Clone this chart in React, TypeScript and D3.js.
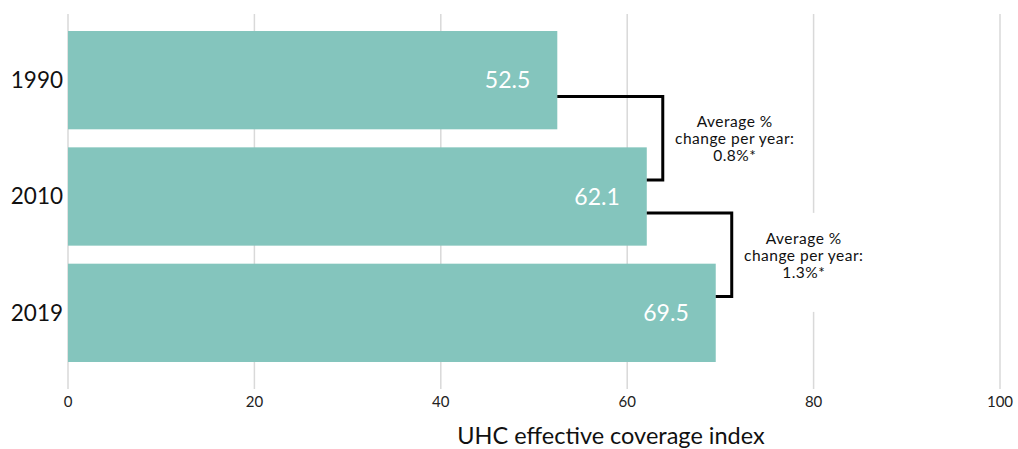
import React, { useEffect, useRef } from "react";
import * as d3 from "d3";

const years = ["1990", "2010", "2019"];
const coverage = [52.5, 62.1, 69.5];
const xTicks = [0, 20, 40, 60, 80, 100];
const changeLabels = ["0.8%*", "1.3%*"];
const axisTitle = "UHC effective coverage index";

const FONT = "Lato, 'Noto Sans', sans-serif";

export default function App() {
  const ref = useRef<SVGSVGElement | null>(null);

  useEffect(() => {
    const width = 1018;
    const height = 449;
    const svg = d3.select(ref.current);
    svg.selectAll("*").remove();

    const x = d3.scaleLinear().domain([0, 100]).range([68, 1000]);
    const y = d3.scaleBand<string>().domain(years).range([31, 362]).paddingInner(0.155).paddingOuter(0);

    // gridlines
    svg.append("g")
      .selectAll("line")
      .data(xTicks)
      .enter()
      .append("line")
      .attr("x1", d => x(d))
      .attr("x2", d => x(d))
      .attr("y1", 14)
      .attr("y2", 389)
      .attr("stroke", "#d9d9d9")
      .attr("stroke-width", 1.5);

    // tick labels
    svg.append("g")
      .selectAll("text")
      .data(xTicks)
      .enter()
      .append("text")
      .attr("x", d => x(d))
      .attr("y", 407)
      .attr("text-anchor", "middle")
      .style("font-family", FONT)
      .style("font-size", "15px")
      .attr("fill", "#222")
      .text(d => d);

    // axis title
    svg.append("text")
      .attr("x", 611)
      .attr("y", 444)
      .attr("text-anchor", "middle")
      .style("font-family", FONT)
      .style("font-size", "23.5px")
      .attr("fill", "#111")
      .text(axisTitle);

    // bars
    svg.append("g")
      .selectAll("rect")
      .data(years)
      .enter()
      .append("rect")
      .attr("x", x(0))
      .attr("y", d => y(d)!)
      .attr("width", (d, i) => x(coverage[i]) - x(0))
      .attr("height", y.bandwidth())
      .attr("fill", "#84c5bd");

    // year labels
    svg.append("g")
      .selectAll("text")
      .data(years)
      .enter()
      .append("text")
      .attr("x", 63)
      .attr("y", d => y(d)! + y.bandwidth() / 2)
      .attr("dy", "0.35em")
      .attr("text-anchor", "end")
      .style("font-family", FONT)
      .style("font-size", "22.5px")
      .attr("fill", "#111")
      .text(d => d);

    // value labels
    svg.append("g")
      .selectAll("text")
      .data(years)
      .enter()
      .append("text")
      .attr("x", (d, i) => x(coverage[i]) - 27)
      .attr("y", d => y(d)! + y.bandwidth() / 2)
      .attr("dy", "0.35em")
      .attr("text-anchor", "end")
      .style("font-family", FONT)
      .style("font-size", "23px")
      .attr("fill", "#fff")
      .text((d, i) => coverage[i].toFixed(1));

    // brackets + annotations
    changeLabels.forEach((label, i) => {
      const y1 = y(years[i])! + y.bandwidth() * 2 / 3;
      const y2 = y(years[i + 1])! + y.bandwidth() / 3;
      const x1 = x(coverage[i]);
      const x2 = x(coverage[i + 1]);
      const xv = Math.max(x1, x2) + 16;
      const mid = (y1 + y2) / 2;
      const cx = xv + 72;

      svg.append("rect")
        .attr("x", cx - 64)
        .attr("y", y1)
        .attr("width", 128)
        .attr("height", 99)
        .attr("fill", "#fff");

      svg.append("path")
        .attr("d", `M${x1},${y1}H${xv}V${y2}H${x2}`)
        .attr("fill", "none")
        .attr("stroke", "#000")
        .attr("stroke-width", 3);

      const lines = ["Average %", "change per year:", label];
      const offs = [-11, 6, 23];
      lines.forEach((t, j) => {
        svg.append("text")
          .attr("x", cx)
          .attr("y", mid + offs[j])
          .attr("text-anchor", "middle")
          .style("font-family", FONT)
          .style("font-size", "15.5px")
          .style("letter-spacing", "0.5px")
          .attr("fill", "#111")
          .text(t);
      });
    });

    svg.attr("width", width).attr("height", height);
  }, []);

  return (
    <svg
      ref={ref}
      width={1018}
      height={449}
      style={{ position: "absolute", left: 0, top: 0, display: "block", background: "#fff" }}
    />
  );
}
